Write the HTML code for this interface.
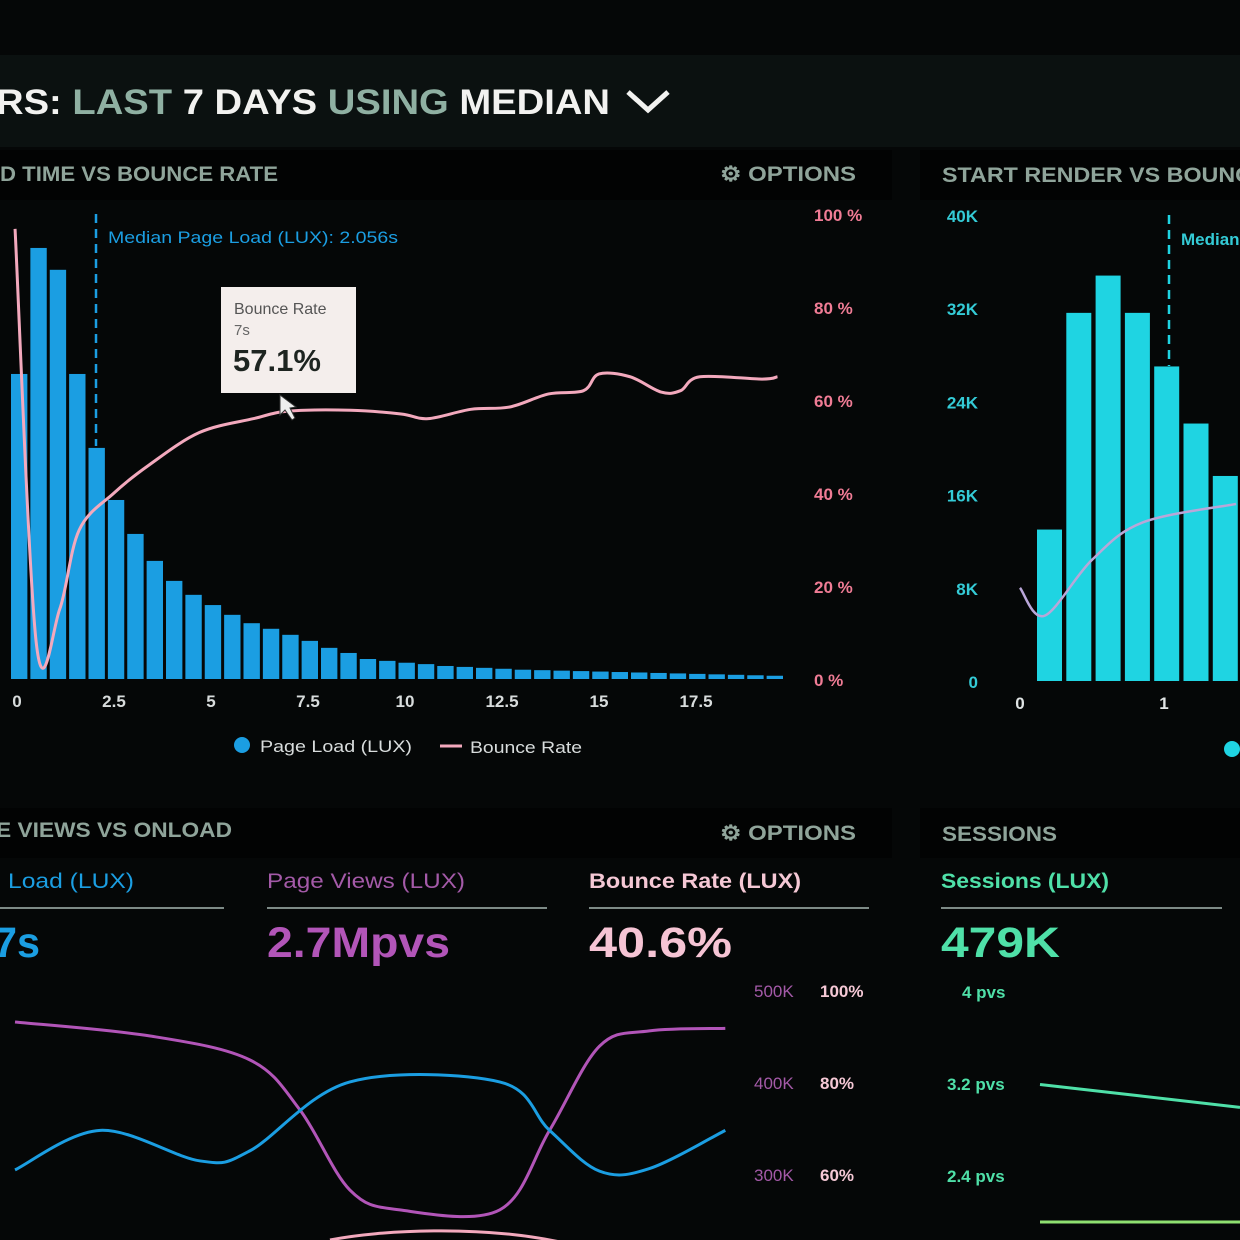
<!DOCTYPE html>
<html><head><meta charset="utf-8"><style>
html,body{margin:0;padding:0;background:#050707;}
svg{display:block;font-family:"Liberation Sans",sans-serif;}
</style></head><body>
<svg id="s" width="1240" height="1240" viewBox="0 0 1240 1240">
<rect x="0" y="0" width="1240" height="1240" fill="#050707"/>
<rect x="0" y="55" width="1240" height="92" fill="#0b1110"/>
<text x="-4" y="114" font-size="35" font-weight="bold" fill="#f2f2f0" textLength="614" lengthAdjust="spacingAndGlyphs">RS: <tspan fill="#8fb0a2">LAST</tspan> 7 DAYS <tspan fill="#8fb0a2">USING</tspan> MEDIAN</text>
<path d="M628 92 L648 110 L668 92" stroke="#f2f2f0" stroke-width="5" fill="none"/>
<rect x="0" y="150" width="892" height="50" fill="#020303"/>
<text x="0" y="181" font-size="21" font-weight="bold" fill="#8fa49a" textLength="278" lengthAdjust="spacingAndGlyphs">D TIME VS BOUNCE RATE</text>
<text x="720" y="181" font-size="21" font-weight="bold" fill="#8fa49a" textLength="136" lengthAdjust="spacingAndGlyphs">⚙ OPTIONS</text>
<rect x="920" y="150" width="320" height="50" fill="#020303"/>
<text x="942" y="182" font-size="21" font-weight="bold" fill="#8fa49a" textLength="310" lengthAdjust="spacingAndGlyphs">START RENDER VS BOUNC</text>
<rect x="0" y="808" width="892" height="50" fill="#020303"/>
<text x="-4" y="837" font-size="21" font-weight="bold" fill="#8fa49a" textLength="236" lengthAdjust="spacingAndGlyphs">E VIEWS VS ONLOAD</text>
<text x="720" y="840" font-size="21" font-weight="bold" fill="#8fa49a" textLength="136" lengthAdjust="spacingAndGlyphs">⚙ OPTIONS</text>
<rect x="920" y="808" width="320" height="50" fill="#020303"/>
<text x="942" y="841" font-size="21" font-weight="bold" fill="#8fa49a" textLength="115" lengthAdjust="spacingAndGlyphs">SESSIONS</text>
<g id="main"></g>
<g id="right"></g>
<g id="bottom"></g>
</svg>
<script>
const NS="http://www.w3.org/2000/svg";
const loadCounts=[65.6,92.7,88,65.6,49.7,38.5,31.2,25.4,21.1,18.1,15.9,13.8,12,10.8,9.5,8.2,6.7,5.6,4.3,3.9,3.5,3.2,2.8,2.6,2.4,2.2,2.0,1.9,1.8,1.7,1.6,1.5,1.4,1.3,1.2,1.1,1.0,0.9,0.8,0.7];
const bounceX=[-0.05,0.5,1.1,1.6,2.5,3.4,4.7,6.1,7.0,8.6,9.9,10.6,11.7,12.7,13.7,14.6,15.0,15.8,16.6,17.1,17.6,19.2,19.6];
const bounceY=[96.8,7.5,15,32,40,46,53,56,57.6,57.8,57,56,58,58.5,61.3,62,65.6,65,61.7,62,65,64.5,65];
const xTicks=["0","2.5","5","7.5","10","12.5","15","17.5"];
const pctTicks=["0 %","20 %","40 %","60 %","80 %","100 %"];
const renderCounts=[13.0,31.6,34.8,31.6,27.0,22.1,17.6];
const renderTicks=["0","8K","16K","24K","32K","40K"];
const renderBounceX=[0,0.17,0.5,0.85,1.5];
const renderBounceY=[20,14,26,34,38];
const viewsT=[0,1.3,2.26,2.74,3.22,3.7,4.66,5.14,5.62,6.1,6.83];
const pageViewsY=[85.5,80,70.6,51,19.6,11.8,11.8,43,76,82,83];
const onloadT=[0,0.82,1.78,2.26,3.22,4.66,5.14,5.62,6.1,6.83];
const onloadY=[27.5,43,31,35,62,62,43,27,28,43];
const sessionsY=[61,52];
function el(tag,attrs,parent,txt){const e=document.createElementNS(NS,tag);for(const k in attrs)e.setAttribute(k,attrs[k]);if(txt!==undefined)e.textContent=txt;parent.appendChild(e);return e;}
function smooth(p){let d="M"+p[0][0]+" "+p[0][1];for(let i=0;i<p.length-1;i++){const a=p[i-1]||p[i],b=p[i],c=p[i+1],e=p[i+2]||c;
d+=" C"+(b[0]+(c[0]-a[0])/6)+" "+(b[1]+(c[1]-a[1])/6)+" "+(c[0]-(e[0]-b[0])/6)+" "+(c[1]-(e[1]-b[1])/6)+" "+c[0]+" "+c[1];}return d;}
// main chart
const g=document.getElementById('main');
const x0=10,x1=785,base=679,pxPer=4.65;
const yS=v=>base-v*pxPer;const xS=s=>17+s*38.8;
const bw=(x1-x0)/loadCounts.length;
loadCounts.forEach((v,i)=>{const r=el('rect',{x:x0+i*bw+1,y:yS(v),width:bw-3,height:v*pxPer,fill:'#1b9ee2'},g);

});
xTicks.forEach((t,i)=>{const e=el('text',{x:xS(i*2.5),y:707,'font-size':17,'font-weight':'bold',fill:'#d8dcdc','text-anchor':'middle'},g,t);

});
pctTicks.forEach((t,i)=>{const e=el('text',{x:814,y:yS(i*20)+7,'font-size':17,'font-weight':'bold',fill:'#f07c95'},g,t);

});
const med=el('line',{x1:96,y1:214,x2:96,y2:446,stroke:'#1b9ee2','stroke-width':2.5,'stroke-dasharray':'9 6'},g);


const mt=el('text',{x:108,y:243,'font-size':17,fill:'#1b9ee2',textLength:290,lengthAdjust:'spacingAndGlyphs'},g,'Median Page Load (LUX): 2.056s');


const bl=el('path',{d:smooth(bounceX.map((s,i)=>[xS(s),yS(bounceY[i])])),stroke:'#f3a9bd','stroke-width':3,fill:'none'},g);


const tip=el('g',{},g);


el('rect',{x:221,y:287,width:135,height:106,fill:'#f4eeec'},tip);
el('text',{x:234,y:314,'font-size':16,fill:'#555'},tip,'Bounce Rate');
el('text',{x:234,y:335,'font-size':15,fill:'#666'},tip,'7s');
el('text',{x:233,y:371,'font-size':31,'font-weight':'bold',fill:'#1d2420'},tip,'57.1%');
el('path',{d:'M280 395 L280 415 L285 410 L292 420 L295 418 L290 408 L296 407 Z',fill:'#eee',stroke:'#333'},tip);
const lg=el('g',{},g);


el('circle',{cx:242,cy:745,r:8,fill:'#1b9ee2'},lg);
el('text',{x:260,y:752,'font-size':17,fill:'#d8dcdc',textLength:152,lengthAdjust:'spacingAndGlyphs'},lg,'Page Load (LUX)');
el('line',{x1:440,y1:746,x2:462,y2:746,stroke:'#f3a9bd','stroke-width':3},lg);
el('text',{x:470,y:753,'font-size':17,fill:'#d8dcdc',textLength:112,lengthAdjust:'spacingAndGlyphs'},lg,'Bounce Rate');
// right chart
const rg=document.getElementById('right');
const rBase=681,rPer=11.65;const rxS=s=>1020+s*144;
renderCounts.forEach((v,i)=>{const r=el('rect',{x:1037+i*29.3,y:rBase-v*rPer,width:25,height:v*rPer,fill:'#1fd4e2'},rg);

});
renderTicks.forEach((t,i)=>{const e=el('text',{x:978,y:rBase-i*8*rPer+7,'font-size':17,'font-weight':'bold',fill:'#34cbd6','text-anchor':'end'},rg,t);

});
["0","1"].forEach((t,i)=>{const e=el('text',{x:rxS(i),y:709,'font-size':17,'font-weight':'bold',fill:'#e0e4e4','text-anchor':'middle'},rg,t);

});
const rm=el('line',{x1:1169,y1:215,x2:1169,y2:366,stroke:'#1fd4e2','stroke-width':2.5,'stroke-dasharray':'9 6'},rg);


const rmt=el('text',{x:1181,y:245,'font-size':17,'font-weight':'bold',fill:'#34cbd6'},rg,'Median');


const rl=el('path',{d:smooth(renderBounceX.map((s,i)=>[rxS(s),rBase-renderBounceY[i]*4.66])),stroke:'#b9a6d8','stroke-width':2.5,fill:'none'},rg);


el('circle',{cx:1232,cy:749,r:8,fill:'#1fd4e2'},rg);
// bottom panel
const bg=document.getElementById('bottom');
const stats=[[8,'Load (LUX)','7s','#1b9ee2',0,224,126,46],[267,'Page Views (LUX)','2.7Mpvs','#b255b8',267,547,198,183],[589,'Bounce Rate (LUX)','40.6%','#f6c4d4',589,869,212,143],[941,'Sessions (LUX)','479K','#4fe0a8',941,1222,168,119]];
const labCol=['#1b9ee2','#a45aa8','#f5c8d5','#4fe0a8'];
stats.forEach((s,i)=>{const t=el('text',{x:s[0],y:888,'font-size':21,fill:labCol[i],'font-weight':i>=2?'bold':'normal',textLength:s[6],lengthAdjust:'spacingAndGlyphs'},bg,s[1]);


const l=el('line',{x1:s[4],y1:908,x2:s[5],y2:908,stroke:'#7d8a86','stroke-width':2},bg);


const v=el('text',{x:i==0?-6:s[0],y:957,'font-size':43,'font-weight':'bold',fill:s[3],textLength:s[7],lengthAdjust:'spacingAndGlyphs'},bg,s[2]);

});
[['500K','100%',997],['400K','80%',1089],['300K','60%',1181]].forEach(a=>{
const e=el('text',{x:754,y:a[2],'font-size':17,fill:'#a45aa8'},bg,a[0]);


const f=el('text',{x:820,y:a[2],'font-size':17,'font-weight':'bold',fill:'#f5c8d5'},bg,a[1]);

});
[['4 pvs',998,962],['3.2 pvs',1090,947],['2.4 pvs',1182,947]].forEach(a=>{
const e=el('text',{x:a[2],y:a[1],'font-size':17,'font-weight':'bold',fill:'#4fe0a8'},bg,a[0]);

});
const bY=v=>1240-v*2.55;const bX=t=>15+t*104;
const pv=el('path',{d:smooth(viewsT.map((t,i)=>[bX(t),bY(pageViewsY[i])])),stroke:'#b255b8','stroke-width':3,fill:'none'},bg);


const ol=el('path',{d:smooth(onloadT.map((t,i)=>[bX(t),bY(onloadY[i])])),stroke:'#1b9ee2','stroke-width':3,fill:'none'},bg);


const br=el('path',{d:'M330 1240 C380 1230 480 1225 560 1242',stroke:'#f3a9bd','stroke-width':3,fill:'none'},bg);


const ss=el('path',{d:smooth([[1040,bY(sessionsY[0])],[1240,bY(sessionsY[1])]]),stroke:'#4fe0a8','stroke-width':3,fill:'none'},bg);


const ss2=el('line',{x1:1040,y1:1222,x2:1240,y2:1222,stroke:'#8fe070','stroke-width':3},bg);


</script>
</body></html>
